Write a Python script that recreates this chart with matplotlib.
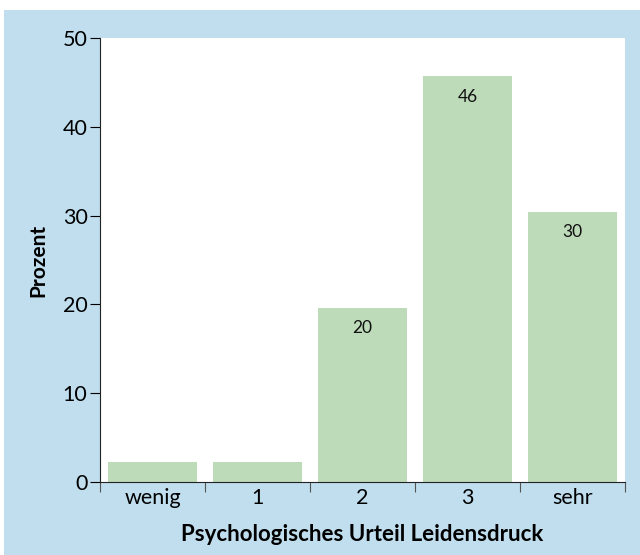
import matplotlib
matplotlib.use("Agg")
import matplotlib.pyplot as plt
from matplotlib.patches import Rectangle

categories = ["wenig", "1", "2", "3", "sehr"]
values = [2.3, 2.3, 19.6, 45.7, 30.4]
bar_labels = ["", "", "20", "46", "30"]

plt.rcParams['font.family'] = ['Lato', 'DejaVu Sans']

fig = plt.figure(figsize=(6.4, 5.55), dpi=100)
fig.patch.set_facecolor("white")
fig.patches.append(Rectangle((4/640, 0), 1 - 4/640, (555 - 10)/555, transform=fig.transFigure,
                             facecolor="#c0deee", edgecolor="none", zorder=-10))

ax = fig.add_axes([100/640, 73/555, 525/640, 444/555])
ax.set_facecolor("white")
x = range(len(categories))
bars = ax.bar(x, values, width=0.85, color="#bddbb8", edgecolor="none")
for b, lab in zip(bars, bar_labels):
    if lab:
        ax.text(b.get_x() + b.get_width()/2, b.get_height() - 1.4, lab,
                ha="center", va="top", fontsize=12.5, color="#111111")

ax.set_xlim(-0.5, len(categories) - 0.5)
ax.set_ylim(0, 50)
ax.set_yticks([0, 10, 20, 30, 40, 50])
ax.set_xticks([i - 0.5 for i in range(len(categories) + 1)])
ax.set_xticklabels([])
ax.set_xticks(list(x), minor=True)
ax.set_xticklabels(categories, minor=True)
ax.tick_params(axis="x", which="minor", length=0, labelsize=15.5, pad=4)
ax.tick_params(axis="x", which="major", length=7, color="#555555", direction="out")
ax.tick_params(axis="y", length=7, labelsize=15.5, direction="out", pad=2)
for s in ["top", "right"]:
    ax.spines[s].set_visible(False)
ax.spines["left"].set_color("#222222")
ax.spines["bottom"].set_color("#222222")

ax.set_ylabel("Prozent", fontsize=15, fontweight="bold", labelpad=10)
ax.set_xlabel("Psychologisches Urteil Leidensdruck", fontsize=16, fontweight="bold", labelpad=12)

fig.savefig("out.png", dpi=100)
